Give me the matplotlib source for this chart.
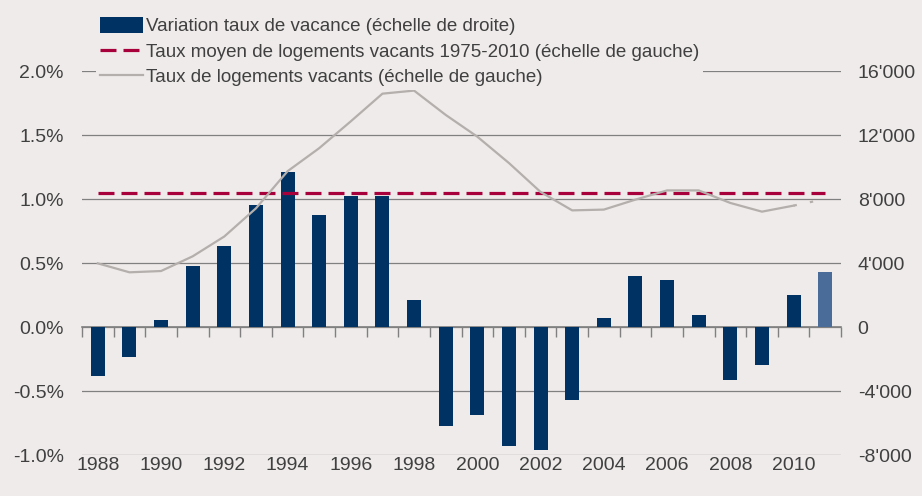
import matplotlib
matplotlib.use('Agg')
import matplotlib.pyplot as plt
from matplotlib.patches import Patch
from matplotlib.lines import Line2D
from matplotlib.ticker import FuncFormatter

# Data
years = list(range(1988, 2012))
variation = [-3020, -1830, 480, 3810, 5060, 7625, 9730, 7000, 8190, 8190,
             1690, -6145, -5460, -7400, -7645, -4560, 560, 3230, 2980, 790,
             -3310, -2375, 2040, 3480]   # bars, right scale (logements)
taux = [0.50, 0.43, 0.44, 0.555, 0.71, 0.93, 1.22, 1.40, 1.61, 1.826,
        1.85, 1.66, 1.49, 1.284, 1.058, 0.914, 0.92, 0.998, 1.07, 1.07,
        0.972, 0.904, 0.951]               # 1988-2010, left scale (%)
taux_est = [0.951, 1.003]                  # 2010-2011 estimate
taux_moyen = 1.05                          # mean 1975-2010 (%)

bg = '#eeebea'
navy = '#003363'
navy_light = '#4a6c99'
red = '#a8003a'
grey_line = '#b4afac'
txt = '#404040'

plt.rcParams['font.family'] = ['Liberation Sans', 'DejaVu Sans']
plt.rcParams['font.size'] = 14

fig = plt.figure(figsize=(9.22, 4.96), dpi=100, facecolor=bg)
W, H = 922, 496
ax = fig.add_axes([82 / W, (H - 455.3) / H, (841 - 82) / W, (455.3 - 71.4) / H])
ax.set_facecolor(bg)

x = list(range(len(years)))

# bars on right scale (primary axes, ticks moved right later)
colors = [navy] * (len(years) - 1) + [navy_light]
ax.bar(x, variation, width=0.44, color=colors, zorder=2)
ax.set_ylim(-8000, 16000)
ax.set_yticks(range(-8000, 16001, 4000))
ax.yaxis.set_major_formatter(FuncFormatter(lambda v, p: f"{int(v):,}".replace(',', "'")))
ax.grid(axis='y', color='#808080', lw=0.9, zorder=1)
ax.set_xlim(-0.5, len(years) - 0.5)
for s in ax.spines.values():
    s.set_visible(False)

# year labels at bottom
ax.set_xticks(x[::2])
ax.set_xticklabels([str(y) for y in years[::2]])
ax.tick_params(axis='x', length=0, pad=1, colors=txt, labelsize=14)

# zero line with tick marks between categories
zero = ax.secondary_xaxis(1 / 3)
zero.set_xticks([i - 0.5 for i in range(len(years) + 1)])
zero.tick_params(axis='x', direction='out', length=7, width=1, color='#808080')
zero.spines['bottom'].set_color('#808080')
zero.spines['bottom'].set_linewidth(1.2)
zero.spines['top'].set_visible(False)
zero.xaxis.set_ticks_position('bottom')
zero.set_xticklabels([])

# lines on left scale
ax2 = ax.twinx()
ax2.set_ylim(-1.0, 2.0)
ax2.set_yticks([-1.0, -0.5, 0.0, 0.5, 1.0, 1.5, 2.0])
ax2.yaxis.set_major_formatter(FuncFormatter(lambda v, p: f"{v:.1f}%"))
ax2.yaxis.tick_left()
ax2.tick_params(axis='y', length=0, pad=13, colors=txt, labelsize=14)
for s in ax2.spines.values():
    s.set_visible(False)

# twinx puts the first axes' ticks on the left, move them back right
ax.yaxis.tick_right()
ax.tick_params(axis='y', length=0, pad=12, colors=txt, labelsize=14)

ax2.plot([x[0], x[-1]], [taux_moyen, taux_moyen], color=red, lw=2.3, dashes=[5.0, 2.2], zorder=3)
ax2.plot(x[:len(taux)], taux, color=grey_line, lw=1.6, zorder=4)
ax2.plot(x[-2:], taux_est, color=grey_line, lw=1.6, dashes=[1.5, 6], zorder=4)

handles = [Patch(facecolor=navy, edgecolor='none'),
           Line2D([], [], color=red, lw=2.3, dashes=[5.0, 2.2]),
           Line2D([], [], color=grey_line, lw=1.6)]
labels = ['Variation taux de vacance (échelle de droite)',
          'Taux moyen de logements vacants 1975-2010 (échelle de gauche)',
          'Taux de logements vacants (échelle de gauche)']
leg = fig.legend(handles, labels, loc='upper left', bbox_to_anchor=(87 / W, 1 - 4 / H),
                 frameon=True, facecolor=bg, edgecolor='none', framealpha=1, fancybox=False,
                 handlelength=2.3, handleheight=0.9, handletextpad=0.15, labelspacing=0.38,
                 borderpad=0.2, fontsize=13.5, labelcolor=txt)

fig.savefig('out.png', dpi=100, facecolor=bg)
